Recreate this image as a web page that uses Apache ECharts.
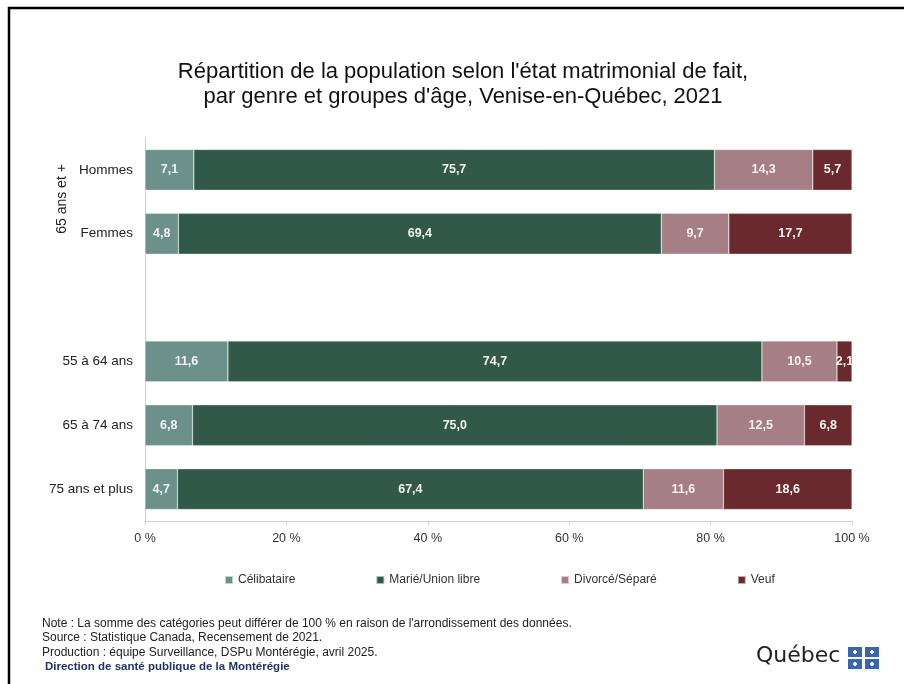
<!DOCTYPE html>
<html>
<head>
<meta charset="utf-8">
<script src="https://cdn.jsdelivr.net/npm/echarts@6/dist/echarts.min.js"></script>
<style>
  html, body { margin: 0; padding: 0; background: #fff; }
  #main { width: 904px; height: 684px; }
</style>
</head>
<body>
<div id="main"></div>
<script>
// catégories (ligne vide = séparation entre les deux groupes)
var categories = ['Hommes', 'Femmes', '', '55 à 64 ans', '65 à 74 ans', '75 ans et plus'];
var seriesNames = ['Célibataire', 'Marié/Union libre', 'Divorcé/Séparé', 'Veuf'];
var celibataire = [7.1, 4.8, null, 11.6, 6.8, 4.7];
var marie = [75.7, 69.4, null, 74.7, 75.0, 67.4];
var divorce = [14.3, 9.7, null, 10.5, 12.5, 11.6];
var veuf = [5.7, 17.7, null, 2.1, 6.8, 18.6];
var xTicks = [0, 20, 40, 60, 80, 100];

var couleurs = ['#6b918a', '#31594a', '#a67e85', '#6a2a2d'];
var police = 'Liberation Sans, Arial, sans-serif';

// barres empilées à 100 % (comme Excel) : on ramène chaque ligne à 100
var toutes = [celibataire, marie, divorce, veuf];
var totaux = categories.map(function (c, i) {
    var s = 0;
    toutes.forEach(function (arr) { s += arr[i] || 0; });
    return s;
});

var myChart = echarts.init(document.getElementById('main'));

function serie(nom, data, idx) {
    return {
        name: nom,
        type: 'bar',
        stack: 'total',
        barWidth: '64%',
        data: data.map(function (v, i) {
            return v == null ? null : { value: v / totaux[i] * 100, brut: v };
        }),
        itemStyle: {
            color: couleurs[idx],
            borderColor: 'rgba(255,255,255,0.6)',
            borderWidth: 0.5
        },
        label: {
            show: true,
            position: 'inside',
            color: '#f2f2f2',
            fontWeight: 'bold',
            fontSize: 12.5,
            fontFamily: police,
            formatter: function (p) {
                return p.data == null ? '' : p.data.brut.toFixed(1).replace('.', ',');
            }
        }
    };
}

var option = {
    backgroundColor: '#fff',
    animation: false,
    title: {
        text: "Répartition de la population selon l'état matrimonial de fait,\npar genre et groupes d'âge, Venise-en-Québec, 2021",
        left: 458,
        top: 54,
        textAlign: 'center',
        textStyle: {
            fontFamily: police,
            fontSize: 22,
            fontWeight: 'normal',
            color: '#111',
            lineHeight: 25
        }
    },
    legend: {
        data: seriesNames,
        top: 569,
        left: 219,
        icon: 'rect',
        itemWidth: 8,
        itemHeight: 8,
        itemGap: 80,
        textStyle: { fontFamily: police, fontSize: 12, color: '#333' }
    },
    grid: {
        left: 145,
        right: 52,
        top: 138,
        bottom: 163
    },
    xAxis: {
        type: 'value',
        min: 0,
        max: 100,
        interval: 20,
        axisLine: { show: true, lineStyle: { color: '#d0d0d0' } },
        axisTick: { show: true, length: 4, lineStyle: { color: '#d0d0d0' } },
        splitLine: { show: false },
        axisLabel: {
            fontFamily: police,
            fontSize: 12.5,
            color: '#333',
            margin: 11,
            formatter: function (v) {
                return xTicks.indexOf(v) >= 0 ? v + ' %' : '';
            }
        }
    },
    yAxis: {
        type: 'category',
        inverse: true,
        data: categories,
        axisLine: { show: true, lineStyle: { color: '#d0d0d0' } },
        axisTick: { show: false },
        axisLabel: {
            fontFamily: police,
            fontSize: 13.5,
            color: '#222',
            margin: 12
        }
    },
    series: [
        serie(seriesNames[0], celibataire, 0),
        serie(seriesNames[1], marie, 1),
        serie(seriesNames[2], divorce, 2),
        serie(seriesNames[3], veuf, 3)
    ],
    graphic: [
        // cadre
        {
            type: 'rect',
            shape: { x: 9, y: 8, width: 1000, height: 1000 },
            style: { fill: 'none', stroke: '#000', lineWidth: 2.5 },
            silent: true
        },
        // étiquette du groupe
        {
            type: 'text',
            x: 62,
            y: 199,
            rotation: Math.PI / 2,
            style: {
                text: '65 ans et +',
                fontFamily: police,
                fontSize: 14,
                fill: '#222',
                align: 'center',
                verticalAlign: 'middle'
            }
        },
        // notes
        {
            type: 'text',
            left: 42,
            top: 616,
            style: {
                text: "Note : La somme des catégories peut différer de 100 % en raison de l'arrondissement des données.\nSource : Statistique Canada, Recensement de 2021.\nProduction : équipe Surveillance, DSPu Montérégie, avril 2025.",
                fontFamily: police,
                fontSize: 12,
                lineHeight: 14.5,
                fill: '#222'
            }
        },
        {
            type: 'text',
            left: 45,
            top: 661,
            style: {
                text: 'Direction de santé publique de la Montérégie',
                fontFamily: police,
                fontSize: 11.5,
                fontWeight: 'bold',
                fill: '#1f3563'
            }
        },
        // logo Québec
        {
            type: 'text',
            left: 756,
            top: 645,
            style: {
                text: 'Québec',
                fontFamily: 'DejaVu Sans, sans-serif',
                fontSize: 22,
                fill: '#222'
            }
        },
        { type: 'rect', shape: { x: 848, y: 647, width: 14, height: 10 }, style: { fill: '#3a66b0' } },
        { type: 'rect', shape: { x: 865, y: 647, width: 14, height: 10 }, style: { fill: '#3a66b0' } },
        { type: 'rect', shape: { x: 848, y: 659, width: 14, height: 10 }, style: { fill: '#3a66b0' } },
        { type: 'rect', shape: { x: 865, y: 659, width: 14, height: 10 }, style: { fill: '#3a66b0' } },
        { type: 'rect', shape: { x: 853, y: 651, width: 4, height: 2 }, style: { fill: '#fff' } },
        { type: 'rect', shape: { x: 854, y: 650, width: 2, height: 4 }, style: { fill: '#fff' } },
        { type: 'rect', shape: { x: 870, y: 651, width: 4, height: 2 }, style: { fill: '#fff' } },
        { type: 'rect', shape: { x: 871, y: 650, width: 2, height: 4 }, style: { fill: '#fff' } },
        { type: 'rect', shape: { x: 853, y: 663, width: 4, height: 2 }, style: { fill: '#fff' } },
        { type: 'rect', shape: { x: 854, y: 662, width: 2, height: 4 }, style: { fill: '#fff' } },
        { type: 'rect', shape: { x: 870, y: 663, width: 4, height: 2 }, style: { fill: '#fff' } },
        { type: 'rect', shape: { x: 871, y: 662, width: 2, height: 4 }, style: { fill: '#fff' } }
    ]
};
myChart.setOption(option);
</script>
</body>
</html>
